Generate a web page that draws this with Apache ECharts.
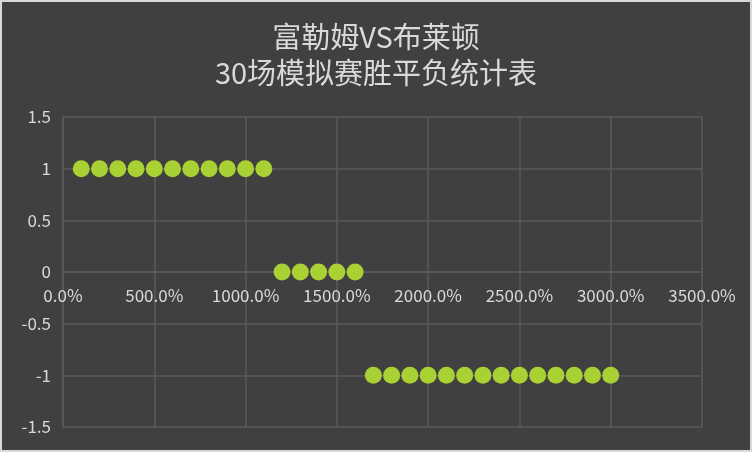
<!DOCTYPE html>
<html>
<head>
<meta charset="utf-8">
<script src="https://cdn.jsdelivr.net/npm/echarts@6/dist/echarts.min.js"></script>
<style>
html,body{margin:0;padding:0;background:#d9d9d9;}
#c{width:748px;height:448px;margin:2px;background:#404040;}
</style>
</head>
<body>
<div id="c"></div>
<script>
// x values in units of 100% (1 = 100.0%)
const matchIndex = [1,2,3,4,5,6,7,8,9,10,11,12,13,14,15,16,17,18,19,20,21,22,23,24,25,26,27,28,29,30];
const results = [1,1,1,1,1,1,1,1,1,1,1,0,0,0,0,0,-1,-1,-1,-1,-1,-1,-1,-1,-1,-1,-1,-1,-1,-1];
const titleText = '富勒姆VS布莱顿\n30场模拟赛胜平负统计表';

const chart = echarts.init(document.getElementById('c'), null, {renderer:'canvas'});
const font = '"Noto Sans CJK SC", "Noto Sans", sans-serif';
const gridTop = 115, gridBottom = 23, H = 448;
const zeroOffset = -((H - gridTop - gridBottom) / 2);
chart.setOption({
  backgroundColor:'#404040',
  animation:false,
  title:{
    text:titleText, left:'center', top:12,
    textStyle:{color:'#d9d9d9', fontSize:29, fontWeight:'normal', fontFamily:font, lineHeight:36}
  },
  grid:{left:61, right:48, top:gridTop, bottom:gridBottom},
  xAxis:{
    type:'value', min:0, max:35, interval:5, position:'bottom', offset:zeroOffset,
    axisLine:{show:true, onZero:false, lineStyle:{color:'#5a5a5a', width:1.5}},
    axisTick:{show:false},
    axisLabel:{color:'#d9d9d9', fontSize:17, fontFamily:font, margin:15,
      formatter:v=>(v*100).toFixed(1)+'%'},
    splitLine:{show:true, lineStyle:{color:'#5a5a5a', width:1.5}}
  },
  yAxis:{
    type:'value', min:-1.5, max:1.5, interval:0.5,
    axisLine:{show:true, onZero:false, lineStyle:{color:'#5a5a5a', width:1.5}}, axisTick:{show:false},
    axisLabel:{color:'#d9d9d9', fontSize:17, fontFamily:font, margin:12},
    splitLine:{show:true, lineStyle:{color:'#5a5a5a', width:1.5}}
  },
  series:[{
    type:'scatter',
    data:matchIndex.map((x,i)=>[x,results[i]]),
    symbolSize:17,
    itemStyle:{color:'#a9d134', opacity:1}
  }]
});
</script>
</body>
</html>
